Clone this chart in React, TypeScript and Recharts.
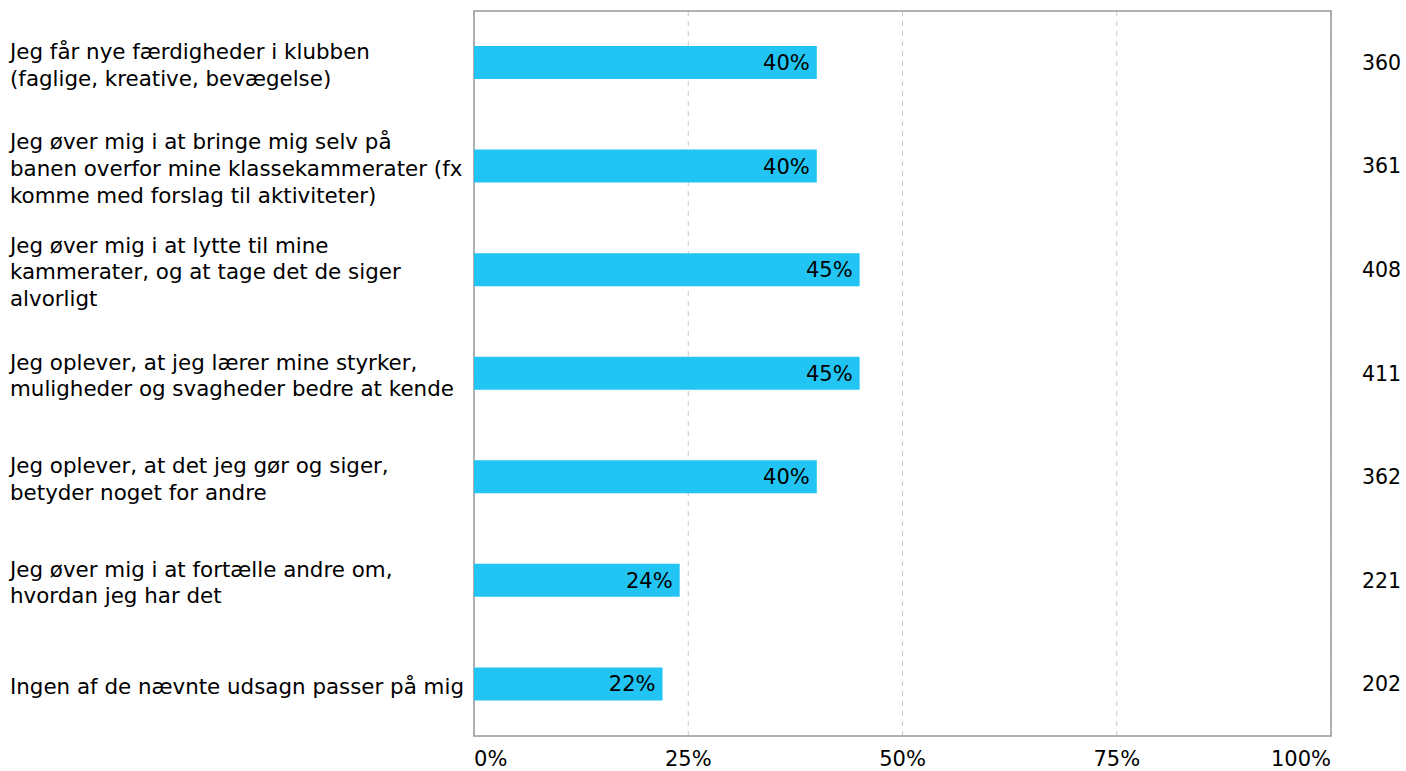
import { BarChart, Bar, XAxis, YAxis, CartesianGrid, LabelList, ReferenceArea } from 'recharts'

const CATEGORIES = [
  'Jeg får nye færdigheder i klubben\n(faglige, kreative, bevægelse)',
  'Jeg øver mig i at bringe mig selv på\nbanen overfor mine klassekammerater (fx\nkomme med forslag til aktiviteter)',
  'Jeg øver mig i at lytte til mine\nkammerater, og at tage det de siger\nalvorligt',
  'Jeg oplever, at jeg lærer mine styrker,\nmuligheder og svagheder bedre at kende',
  'Jeg oplever, at det jeg gør og siger,\nbetyder noget for andre',
  'Jeg øver mig i at fortælle andre om,\nhvordan jeg har det',
  'Ingen af de nævnte udsagn passer på mig',
]
const PERCENTS = [40, 40, 45, 45, 40, 24, 22]
const COUNTS = [360, 361, 408, 411, 362, 221, 202]
const X_TICKS = [0, 25, 50, 75, 100]

const FONT = 'DejaVu Sans, Verdana, sans-serif'
const BAR_COLOR = '#21C4F3'

const data = CATEGORIES.map((name, i) => ({ name, value: PERCENTS[i], n: COUNTS[i] }))

function LeftTick(props: any) {
  const { y, payload } = props
  const lines: string[] = String(payload.value).split('\n')
  const lh = 26.7
  const y0 = y + 1.5 - ((lines.length - 1) * lh) / 2
  return (
    <text x={10} y={y0} fontSize={21.4} fontFamily={FONT} fill="#000" textAnchor="start" dominantBaseline="central">
      {lines.map((l, i) => (
        <tspan key={i} x={10} y={y0 + i * lh}>{l}</tspan>
      ))}
    </text>
  )
}

function RightTick(props: any) {
  const { y, index } = props
  return (
    <text x={1362} y={y} fontSize={20.5} fontFamily={FONT} fill="#000" textAnchor="start" dominantBaseline="central">
      {COUNTS[index]}
    </text>
  )
}

function BottomTick(props: any) {
  const { x, y, payload, index } = props
  const anchor = index === 0 ? 'start' : index === X_TICKS.length - 1 ? 'end' : 'middle'
  return (
    <text x={x} y={y + 15} fontSize={21} fontFamily={FONT} fill="#000" textAnchor={anchor} dominantBaseline="central">
      {payload.value}%
    </text>
  )
}

export default function App() {
  return (
    <div style={{ position: 'absolute', left: 0, top: 0, background: '#fff' }}>
      <BarChart
        width={1406}
        height={771}
        data={data}
        layout="vertical"
        margin={{ top: 11, right: 0, bottom: 0, left: 0 }}
        barCategoryGap={0}
      >
        <CartesianGrid horizontal={false} vertical stroke="#c8c8c8" strokeDasharray="5 5" />
        <XAxis
          type="number"
          domain={[0, 100]}
          ticks={X_TICKS}
          height={35}
          axisLine={false}
          tickLine={false}
          tick={<BottomTick />}
          interval={0}
        />
        <YAxis
          yAxisId="left"
          type="category"
          dataKey="name"
          width={474}
          axisLine={false}
          tickLine={false}
          tick={<LeftTick />}
          interval={0}
        />
        <YAxis
          yAxisId="right"
          orientation="right"
          type="category"
          dataKey="name"
          width={75}
          axisLine={false}
          tickLine={false}
          tick={<RightTick />}
          interval={0}
        />
        <ReferenceArea yAxisId="left" x1={0} x2={100} fill="none" stroke="#999" strokeWidth={1.5} fillOpacity={0} />
        <Bar yAxisId="left" dataKey="value" fill={BAR_COLOR} barSize={33} isAnimationActive={false}>
          <LabelList
            dataKey="value"
            position="insideRight"
            offset={7}
            formatter={(v: any) => `${v}%`}
            fill="#000"
            fontSize={21}
            fontFamily={FONT}
          />
        </Bar>
      </BarChart>
    </div>
  )
}
